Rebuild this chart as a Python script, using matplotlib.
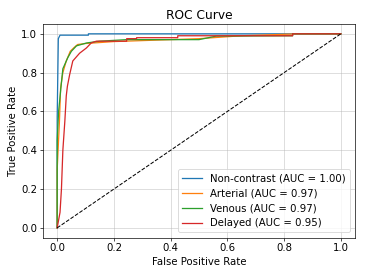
import matplotlib.pyplot as plt

plt.rcParams["font.size"] = 12

# ROC points (fpr, tpr)
fpr_non = [0.0, 0.0, 0.004, 0.01, 0.11, 0.11, 1.0]
tpr_non = [0.0, 0.57, 0.975, 0.993, 0.993, 1.0, 1.0]

fpr_art = [0.0, 0.0, 0.008, 0.012, 0.02, 0.032, 0.046, 0.06, 0.072, 0.1, 0.15, 0.2, 0.3, 0.4, 0.5, 0.55, 0.65, 0.85, 1.0]
tpr_art = [0.0, 0.3, 0.55, 0.72, 0.8, 0.86, 0.91, 0.93, 0.945, 0.95, 0.955, 0.96, 0.965, 0.97, 0.975, 0.98, 0.99, 1.0, 1.0]

fpr_ven = [0.0, 0.0, 0.005, 0.014, 0.02, 0.037, 0.05, 0.068, 0.104, 0.15, 0.245, 0.5, 0.56, 0.83, 0.83, 1.0]
tpr_ven = [0.0, 0.45, 0.6, 0.735, 0.82, 0.876, 0.91, 0.938, 0.953, 0.962, 0.97, 0.97, 0.988, 0.99, 1.0, 1.0]

fpr_del = [0.0, 0.01, 0.015, 0.02, 0.027, 0.032, 0.036, 0.044, 0.055, 0.079, 0.103, 0.12, 0.138, 0.245, 0.245, 0.28, 0.28, 0.425, 0.425, 0.83, 0.83, 1.0]
tpr_del = [0.0, 0.08, 0.2, 0.4, 0.55, 0.68, 0.73, 0.79, 0.86, 0.9, 0.927, 0.953, 0.962, 0.962, 0.975, 0.975, 0.98, 0.98, 0.99, 0.99, 1.0, 1.0]

auc = [1.00, 0.97, 0.97, 0.95]
names = ["Non-contrast", "Arterial", "Venous", "Delayed"]

fig = plt.figure(figsize=(366 / 61, 274 / 61), dpi=61)
fig.subplots_adjust(left=0.1175, right=0.970, top=0.912, bottom=0.133)

curves = [(fpr_non, tpr_non), (fpr_art, tpr_art), (fpr_ven, tpr_ven), (fpr_del, tpr_del)]
for (f, t), n, a in zip(curves, names, auc):
    plt.plot(f, t, label=f"{n} (AUC = {a:.2f})")

plt.plot([0, 1], [0, 1], "k--", lw=1.2)
plt.xlabel("False Positive Rate")
plt.ylabel("True Positive Rate")
plt.title("ROC Curve")
plt.legend(loc="lower right")
plt.grid(True, alpha=0.6)

plt.savefig("out.png", dpi=61)
